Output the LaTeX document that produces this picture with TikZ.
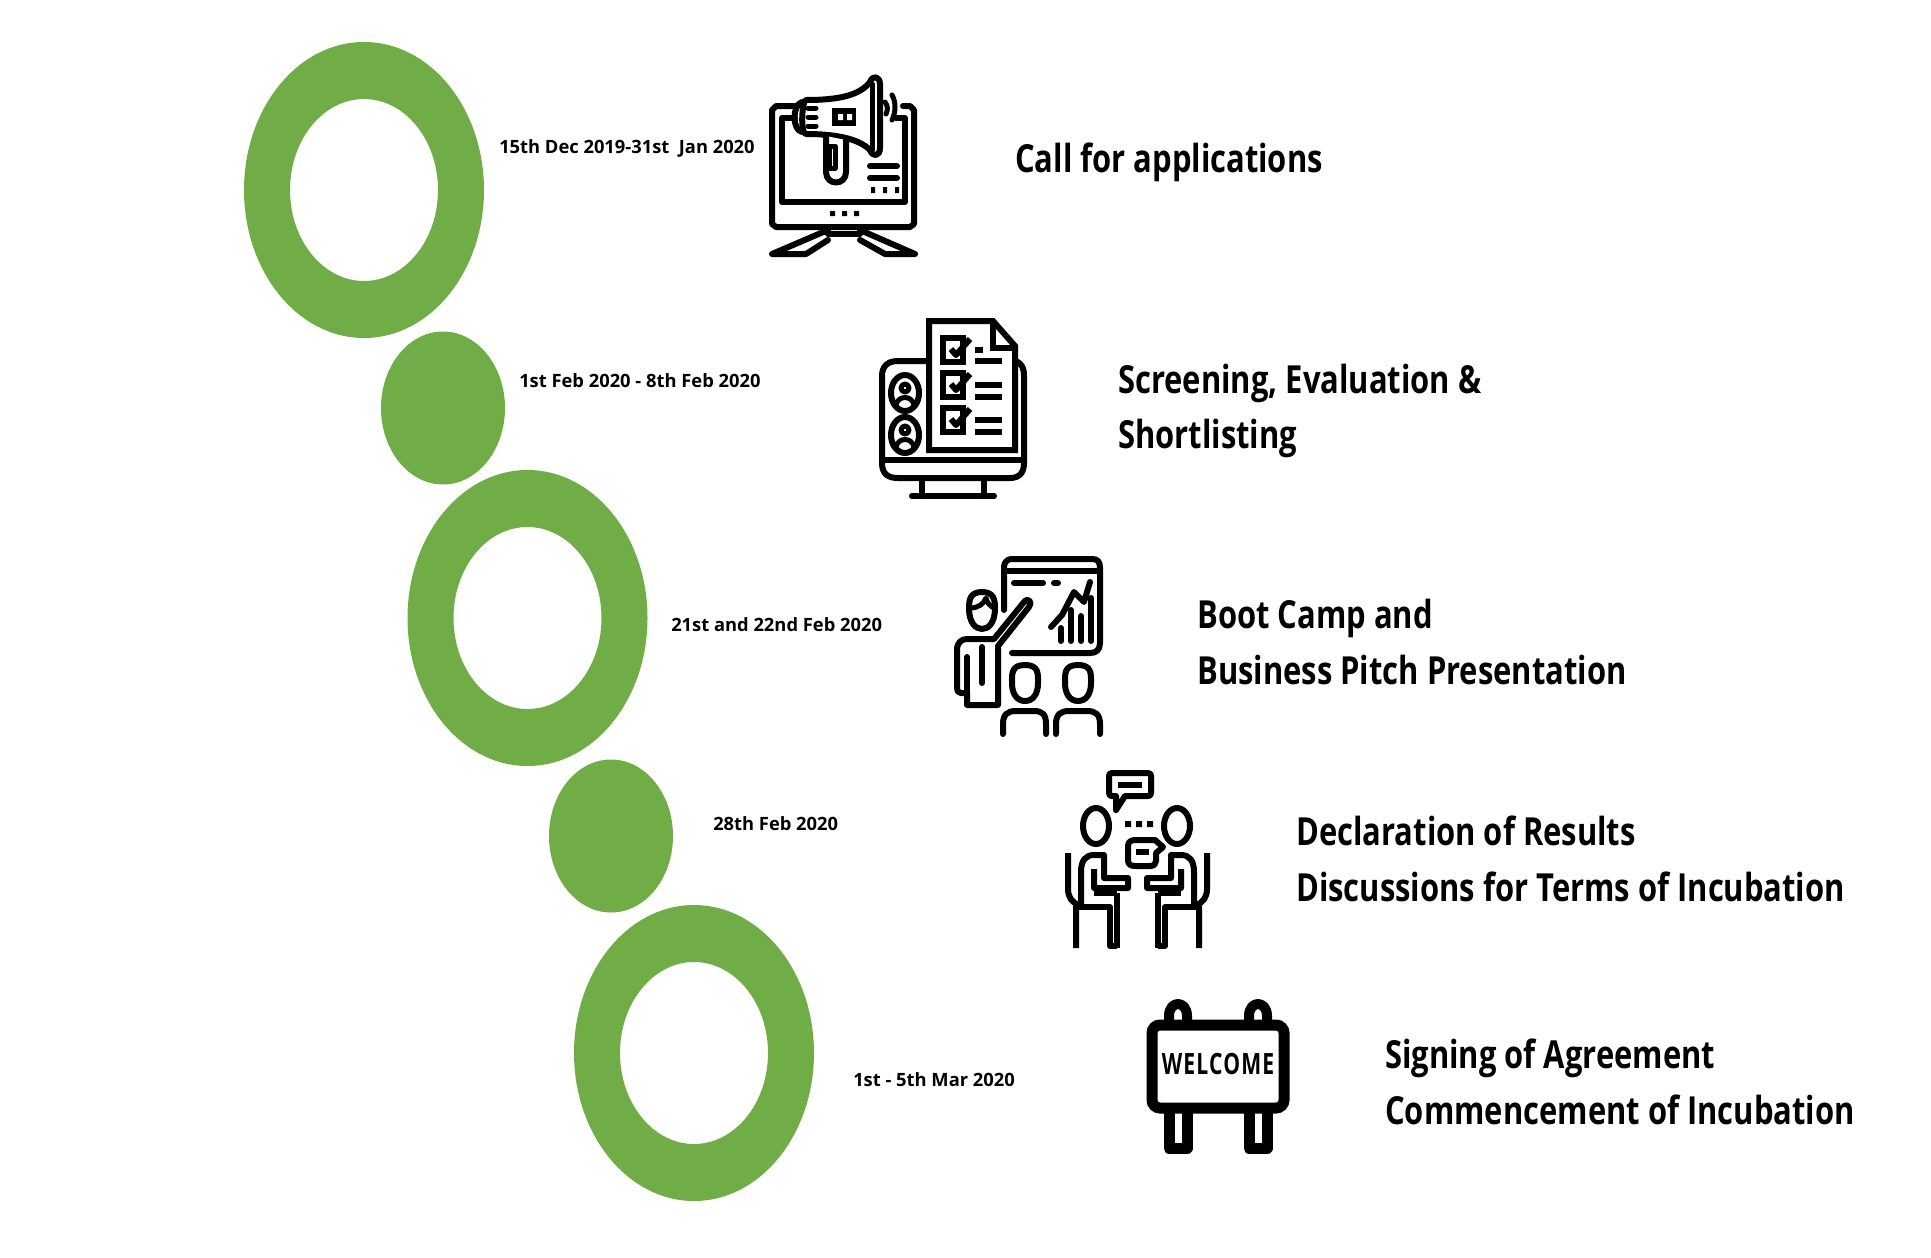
\documentclass[tikz,border=0pt]{standalone}
\usepackage{fontspec}
\setmainfont{Open Sans}
\newfontfamily\headfont[FakeStretch=0.8]{Open Sans}
\newfontfamily\signfont[FakeStretch=0.72,LetterSpace=4]{Open Sans}
\usetikzlibrary{positioning,calc,shapes.geometric}
\definecolor{RingGreen}{RGB}{112,173,71}
\newdimen\pxu
\pxu=0.75pt
\tikzset{
  ring/.style={fill=RingGreen,even odd rule},
  dot/.style={ellipse,fill=RingGreen,minimum width=124\pxu,minimum height=153\pxu,inner sep=0pt},
  datelabel/.style={anchor=west,inner sep=0pt,font=\fontsize{13.75}{16}\selectfont\bfseries},
  steplabel/.style={anchor=west,inner sep=0pt,align=left,font=\headfont\fontsize{29}{41.5}\selectfont\bfseries},
  ink/.style={draw=black,line width=6\pxu,line cap=round,line join=round,fill=none},
  thin ink/.style={ink,line width=5\pxu},
}
\begin{document}
\begin{tikzpicture}[x=0.75pt,y=-0.75pt]
\useasboundingbox (0,0) rectangle (1931,1257);
% rings and dots
\fill[ring] (364,190) ellipse [x radius=120,y radius=148] (364,190) ellipse [x radius=74,y radius=91];
\node[dot] (dot1) at (443,408) {};
\fill[ring] (527.5,618) ellipse [x radius=120,y radius=148] (527.5,618) ellipse [x radius=74,y radius=91];
\node[dot] (dot2) at (611,836) {};
\fill[ring] (694,1053) ellipse [x radius=120,y radius=148] (694,1053) ellipse [x radius=74,y radius=91];
% dates
\node[datelabel] (date1) at (499,148) {15th Dec 2019-31st\ \ Jan 2020};
\node[datelabel] (date2) at (519,381) {1st Feb 2020 - 8th Feb 2020};
\node[datelabel] (date3) at (671,625) {21st and 22nd Feb 2020};
\node[datelabel] (date4) at (713,824) {28th Feb 2020};
\node[datelabel] (date5) at (853,1080) {1st - 5th Mar 2020};
% steps
\node[steplabel] (step1) at (1015,162) {Call for applications};
\node[steplabel] (step2) at (1118,411) {Screening, Evaluation \&\\Shortlisting};
\node[steplabel] (step3) at (1197,642) {Boot Camp and\\Business Pitch Presentation};
\node[steplabel] (step4) at (1296,859) {Declaration of Results\\Discussions for Terms of Incubation};
\node[steplabel] (step5) at (1385,1082) {Signing of Agreement\\Commencement of Incubation};
% icon 1
\begin{scope}[shift={(750,50)}]
\draw[ink] (45,56) -- (26,56) -- (22,60) -- (22,174) -- (26,177) -- (160,177) -- (164,174) -- (164,60) -- (160,56) -- (153,56);
\draw[ink] (45,68) -- (32,68) -- (32,152) -- (155,152) -- (155,68) -- (146,68);
\fill (80,161) rectangle +(5,5) (92,161) rectangle +(5,5) (104,161) rectangle +(5,5);
\draw[ink] (78,177) -- (78,184) -- (110,184) -- (110,177);
\draw[ink] (78,180) -- (22,204) -- (56,204) -- (78,190);
\draw[ink] (110,180) -- (165,204) -- (135,204) -- (110,190);
\draw[ink] (120,116) -- (147,116) (120,128) -- (147,128);
\fill (121,137) rectangle +(4,6) (133,137) rectangle +(4,6) (145,137) rectangle +(4,6);
\draw[ink,fill=white] (56,50) .. controls (90,50) and (110,45) .. (120,32) .. controls (123,24) and (130,27) .. (130,34) -- (130,98) .. controls (130,106) and (123,108) .. (120,100) .. controls (110,90) and (90,84) .. (56,84) .. controls (50,84) and (52,50) .. (56,50) -- cycle;
\draw[thin ink] (122,34) -- (122,100);
\draw[ink] (52,52) .. controls (42,55) and (42,80) .. (52,82);
\draw[thin ink] (58,58) -- (66,58) (58,67) -- (66,67) (58,76) -- (66,76);
\draw[ink,fill=white] (76,86) -- (76,122) .. controls (76,136) and (96,136) .. (96,122) -- (96,90);
\draw[thin ink] (79,96) -- (85,96) -- (85,118) -- (79,118) -- cycle;
\fill (82,58) rectangle (106,76);
\fill[white] (88,64) rectangle (93,70) (97,64) rectangle (102,70);
\draw[thin ink] (142,45) .. controls (146,52) and (146,62) .. (142,70);
\draw[thin ink] (135,52) .. controls (138,56) and (138,60) .. (136,64);
\end{scope}
% icon 2
\begin{scope}[shift={(860,300)}]
\draw[ink] (67,61) -- (38,61) .. controls (26,61) and (22,68) .. (22,76) -- (22,163) .. controls (22,174) and (28,178) .. (38,178) -- (150,178) .. controls (160,178) and (164,172) .. (164,163) -- (164,76) .. controls (164,68) and (162,64) .. (156,61);
\draw[ink] (22,160) -- (164,160);
\draw[ink] (62,178) -- (62,196) (124,178) -- (124,196) (52,196) -- (134,196);
\draw[ink,fill=white,line join=miter,line cap=butt] (69,21) -- (133,21) -- (155,46) -- (155,150) -- (69,150) -- cycle;
\draw[ink,line join=miter,line cap=butt] (133,21) -- (133,48) -- (155,48);
\foreach \yy in {38,73,108}{
  \draw[ink,line join=miter,line cap=butt] (83,\yy) rectangle +(20,24);
  \draw[ink,line cap=butt] (91,\yy+11) -- (96,\yy+17) -- (110,\yy+1);
}
\draw[ink,line cap=butt] (115,50) -- (123,50) (115,61) -- (142,61) (115,85) -- (142,85) (115,97) -- (142,97) (115,120) -- (142,120) (115,132) -- (142,132);
\foreach \yy in {93,135}{
  \draw[ink] (45,\yy) ellipse [x radius=14,y radius=18];
  \draw[thin ink] (45,\yy-5) circle (4);
  \draw[thin ink] (36,\yy+12) .. controls (38,\yy+2) and (52,\yy+2) .. (54,\yy+12);
}
\end{scope}
% icon 3
\begin{scope}[shift={(940,540)}]
\draw[ink] (64,70) -- (64,28) .. controls (64,21) and (68,19) .. (72,19) -- (152,19) .. controls (158,19) and (160,22) .. (160,28) -- (160,103) .. controls (160,110) and (156,113) .. (150,113) -- (72,113);
\draw[ink] (64,31) -- (160,31);
\draw[ink] (74,43) -- (103,43) (114,43) -- (118,43);
\draw[ink] (111,87) -- (122,75) -- (134,52) -- (144,62) -- (150,42);
\draw[ink] (121,88) -- (121,101) (131,70) -- (131,101) (141,76) -- (141,101) (151,58) -- (151,101);
\draw[ink] (42,52) .. controls (30,52) and (29,60) .. (29,68) .. controls (29,82) and (35,89) .. (42,89) .. controls (49,89) and (55,82) .. (55,68) .. controls (55,60) and (54,52) .. (42,52) -- cycle;
\draw[thin ink] (30,68) .. controls (38,68) and (44,64) .. (46,58) .. controls (47,63) and (50,66) .. (54,68);
\draw[ink] (27,99) -- (54,99) -- (84,62) .. controls (88,57) and (93,62) .. (89,67) -- (58,106) -- (58,165) -- (27,165) -- (27,153) -- (21,153) .. controls (18,153) and (17,151) .. (17,148) -- (17,110) .. controls (17,102) and (22,99) .. (27,99) -- cycle;
\draw[ink] (27,117) -- (27,153) (42,107) -- (42,143);
\foreach \xx in {85,138}{
  \draw[ink] (\xx,125) .. controls (\xx-14,125) and (\xx-13,134) .. (\xx-13,143) .. controls (\xx-13,154) and (\xx-8,161) .. (\xx,161) .. controls (\xx+8,161) and (\xx+13,154) .. (\xx+13,143) .. controls (\xx+13,134) and (\xx+14,125) .. (\xx,125) -- cycle;
}
\draw[ink] (63,194) -- (63,184) .. controls (63,174) and (68,171) .. (76,171) -- (94,171) .. controls (102,171) and (106,174) .. (106,184) -- (106,194);
\draw[ink] (116,194) -- (116,184) .. controls (116,174) and (121,171) .. (129,171) -- (147,171) .. controls (155,171) and (160,174) .. (160,184) -- (160,194);
\end{scope}
% icon 4
\begin{scope}[shift={(1050,760)}]
\draw[ink] (66,36) -- (62,36) .. controls (60,36) and (59,35) .. (59,33) -- (59,16) .. controls (59,14) and (60,13) .. (62,13) -- (98,13) .. controls (100,13) and (101,14) .. (101,16) -- (101,33) .. controls (101,35) and (100,36) .. (98,36) -- (75,36) -- (66,50) -- cycle;
\draw[ink,line cap=butt] (68,25) -- (92,25);
\draw[ink] (46,66) ellipse [x radius=13,y radius=18] (127,66) ellipse [x radius=13,y radius=18];
\fill (75,61) rectangle +(6,6) (86,61) rectangle +(6,6) (97,61) rectangle +(6,6);
\draw[ink,line join=round] (85,80) -- (105,80) -- (113,87) -- (106,93) -- (106,101) .. controls (106,104) and (104,106) .. (100,106) -- (85,106) .. controls (80,106) and (78,104) .. (78,100) -- (78,86) .. controls (78,82) and (81,80) .. (85,80) -- cycle;
\draw[ink,line cap=butt] (86,92) -- (99,92);
\draw[ink,line cap=butt] (18,93) -- (18,129) .. controls (18,137) and (22,143) .. (29,145);
\draw[ink,line cap=butt] (157,93) -- (157,129) .. controls (157,137) and (153,143) .. (146,145);
\draw[ink,line cap=butt] (26,188) -- (26,146) (31,146) -- (31,112) .. controls (31,100) and (36,95) .. (44,95) -- (54,95) -- (54,118) -- (78,118) -- (78,128) -- (44,128) -- (44,109);
\draw[ink,line cap=butt] (44,133) -- (67,133);
\draw[ink,line cap=butt] (26,147) -- (60,147) -- (60,186) -- (67,186) (67,133) -- (67,188);
\draw[ink,line cap=butt] (149,188) -- (149,146) (144,146) -- (144,112) .. controls (144,100) and (139,95) .. (131,95) -- (121,95) -- (121,118) -- (97,118) -- (97,128) -- (131,128) -- (131,109);
\draw[ink,line cap=butt] (131,133) -- (108,133);
\draw[ink,line cap=butt] (149,147) -- (115,147) -- (115,186) -- (108,186) (108,133) -- (108,188);
\end{scope}
% icon 5
\begin{scope}[shift={(1130,990)}]
\draw[black,line width=10\pxu,line join=round,fill=white] (39,33) -- (39,26) .. controls (39,10) and (57,10) .. (57,26) -- (57,33);
\draw[black,line width=10\pxu,line join=round,fill=white] (119,33) -- (119,26) .. controls (119,10) and (137,10) .. (137,26) -- (137,33);
\draw[black,line width=11\pxu,line join=round,fill=white] (39,118) -- (39,158) -- (57,158) -- (57,118);
\draw[black,line width=11\pxu,line join=round,fill=white] (119,118) -- (119,158) -- (137,158) -- (137,118);
\draw[black,line width=11\pxu,rounded corners=8\pxu,fill=white] (22,35) rectangle (154,118);
\node[inner sep=0pt,font=\signfont\fontsize{22}{24}\selectfont\bfseries] (welcome) at (88,74) {WELCOME};
\end{scope}
\end{tikzpicture}
\end{document}
